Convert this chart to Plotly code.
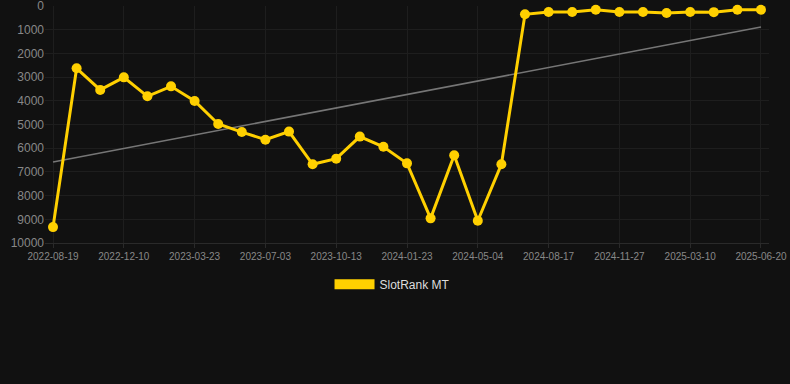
import numpy as np
import plotly.graph_objects as go

dates = ["2022-08-19", "2022-09-26", "2022-11-02", "2022-12-10", "2023-01-13", "2023-02-17",
         "2023-03-23", "2023-04-26", "2023-05-30", "2023-07-03", "2023-08-06", "2023-09-09",
         "2023-10-13", "2023-11-16", "2023-12-20", "2024-01-23", "2024-02-26", "2024-03-31",
         "2024-05-04", "2024-06-08", "2024-07-13", "2024-08-17", "2024-09-20", "2024-10-24",
         "2024-11-27", "2024-12-31", "2025-02-03", "2025-03-10", "2025-04-13", "2025-05-17",
         "2025-06-20"]
rank = [9330, 2630, 3540, 3010, 3810, 3390, 4010, 4980, 5320, 5640, 5300, 6680, 6440, 5510,
        5940, 6640, 8960, 6300, 9060, 6680, 350, 250, 250, 155, 250, 250, 295, 250, 260, 160, 160]
series_name = "SlotRank MT"
y_ticks = [0, 1000, 2000, 3000, 4000, 5000, 6000, 7000, 8000, 9000, 10000]

idx = np.arange(len(rank))
coef = np.polyfit(idx, rank, 1)
trend = np.polyval(coef, idx)

gold = "#ffd000"
fig = go.Figure()
fig.add_trace(go.Scatter(x=dates, y=trend, mode="lines",
                         line=dict(color="#767676", width=1.6),
                         showlegend=False, hoverinfo="skip"))
fig.add_trace(go.Scatter(x=dates, y=rank, mode="lines+markers",
                         line=dict(color=gold, width=3),
                         marker=dict(color=gold, size=10),
                         showlegend=False, name=series_name, cliponaxis=False))
fig.add_trace(go.Scatter(x=[None], y=[None], mode="lines",
                         line=dict(color=gold, width=12),
                         name=series_name, showlegend=True))

fig.update_layout(
    width=790, height=384,
    paper_bgcolor="#111111", plot_bgcolor="#111111",
    margin=dict(l=45, r=21, t=6, b=141, autoexpand=False),
    font=dict(family="Liberation Sans, Arial, sans-serif", color="#888888"),
    legend=dict(orientation="h", x=0.48, xanchor="center",
                y=-0.113, yanchor="top", font=dict(size=12, color="#dddddd"),
                itemwidth=40, bgcolor="rgba(0,0,0,0)"),
)
fig.update_xaxes(type="category", tickmode="array",
                 tickvals=dates[::3], ticktext=dates[::3],
                 range=[-0.34, len(dates) - 1 + 0.34],
                 showgrid=True, gridcolor="#1e1e1e", gridwidth=1,
                 zeroline=False, showline=True, linecolor="#2a2a2a",
                 ticks="outside", ticklen=4, tickcolor="#2a2a2a",
                 tickfont=dict(size=10, color="#888888"), tickangle=0,
                 automargin=False, ticklabeloverflow="allow")
fig.update_yaxes(range=[10000, 0], tickmode="array", tickvals=y_ticks, tickformat="d",
                 showgrid=True, gridcolor="#1e1e1e", gridwidth=1,
                 zeroline=False, showline=False, automargin=False,
                 ticklabeloverflow="allow",
                 tickfont=dict(size=12, color="#888888"), ticks="", ticklen=0)

fig.write_html("out.html", config={"displayModeBar": False},
               post_script="document.body.style.margin='0';")
